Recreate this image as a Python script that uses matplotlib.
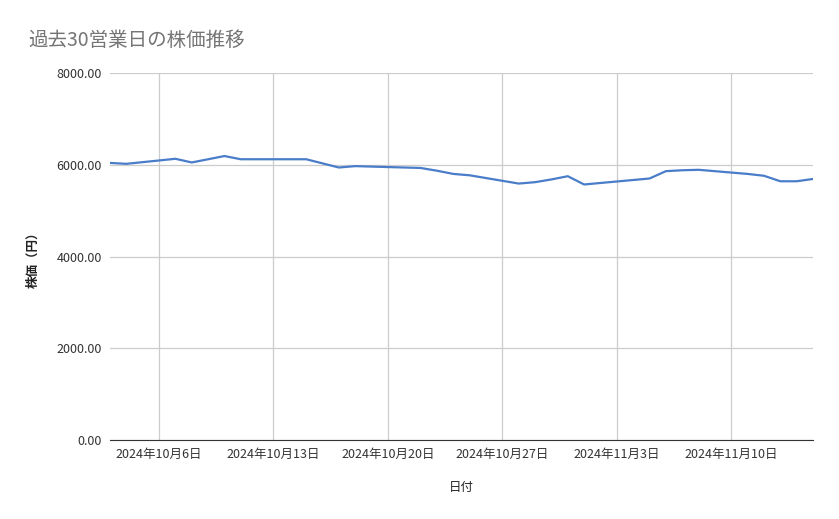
import matplotlib
matplotlib.use("Agg")
import matplotlib.pyplot as plt
from datetime import datetime

plt.rcParams['font.family'] = ['Noto Sans CJK JP', 'DejaVu Sans']

dates = ["2024-10-03", "2024-10-04", "2024-10-07", "2024-10-08", "2024-10-09",
         "2024-10-10", "2024-10-11", "2024-10-15", "2024-10-16", "2024-10-17",
         "2024-10-18", "2024-10-21", "2024-10-22", "2024-10-23", "2024-10-24",
         "2024-10-25", "2024-10-28", "2024-10-29", "2024-10-30", "2024-10-31",
         "2024-11-01", "2024-11-05", "2024-11-06", "2024-11-07", "2024-11-08",
         "2024-11-11", "2024-11-12", "2024-11-13", "2024-11-14", "2024-11-15"]
prices = [6040, 6020, 6130, 6050, 6120, 6190, 6120, 6120, 6030, 5940,
          5970, 5940, 5930, 5870, 5800, 5770, 5590, 5620, 5680, 5750,
          5570, 5700, 5860, 5880, 5890, 5800, 5760, 5640, 5640, 5690]
tick_dates = ["2024-10-06", "2024-10-13", "2024-10-20", "2024-10-27", "2024-11-03", "2024-11-10"]
tick_labels = ["2024年10月6日", "2024年10月13日", "2024年10月20日", "2024年10月27日",
               "2024年11月3日", "2024年11月10日"]
y_ticks = [0, 2000, 4000, 6000, 8000]

x = [datetime.strptime(d, "%Y-%m-%d") for d in dates]
xt = [datetime.strptime(d, "%Y-%m-%d") for d in tick_dates]

fig = plt.figure(figsize=(8.39, 5.19), dpi=100)
ax = fig.add_axes([110/839, 1-440/519, 703/839, 367/519])
ax.plot(x, prices, color="#4a7dc9", linewidth=1.6)

ax.set_xlim(x[0], x[-1])
ax.set_ylim(0, 8000)
ax.set_xticks(xt)
ax.set_xticklabels(tick_labels)
ax.set_yticks(y_ticks)
ax.set_yticklabels(["%.2f" % v for v in y_ticks])
ax.grid(True, color="#cccccc", linewidth=0.9)
ax.set_axisbelow(True)
for s in ["top", "right", "left"]:
    ax.spines[s].set_visible(False)
ax.spines["bottom"].set_color("#333333")
ax.tick_params(length=0, labelsize=9, colors="#333333", pad=6)

ax.set_xlabel("日付", fontsize=9, color="#222222", labelpad=14)
ax.set_ylabel("株価（円）", fontsize=9, color="#222222", labelpad=12, fontweight="bold")
fig.text(28/839, 1-40/519, "過去30営業日の株価推移", fontsize=14, color="#757575", va="center")

fig.savefig("out.png", dpi=100)
